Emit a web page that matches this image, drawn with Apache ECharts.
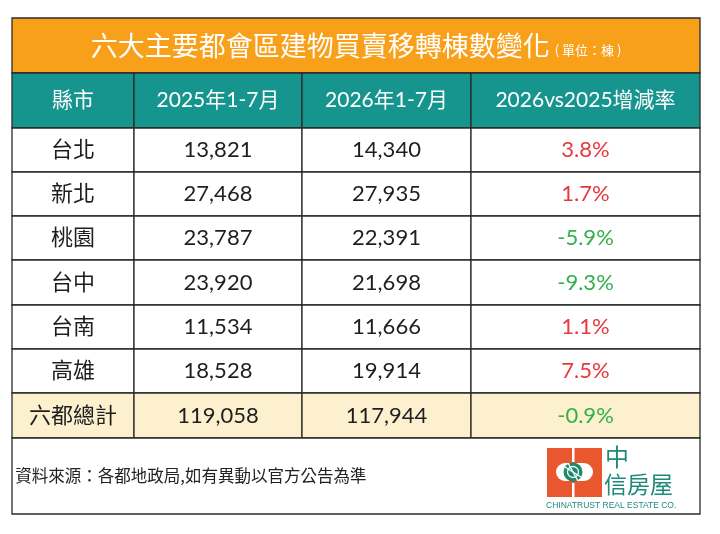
<!DOCTYPE html>
<html>
<head>
<meta charset="utf-8">
<title>六大主要都會區建物買賣移轉棟數變化</title>
<script src="https://cdn.jsdelivr.net/npm/echarts@6/dist/echarts.min.js"></script>
<style>
  html, body { margin: 0; padding: 0; background: #fff; }
  #table_chart { width: 720px; height: 534px; }
</style>
</head>
<body>
<div id="table_chart"></div>
<script>
// data
var titleText = '六大主要都會區建物買賣移轉棟數變化';
var unitText = '( 單位：棟 )';
var headers = ['縣市', '2025年1-7月', '2026年1-7月', '2026vs2025增減率'];
var cities = ['台北', '新北', '桃園', '台中', '台南', '高雄', '六都總計'];
var count2025 = [13821, 27468, 23787, 23920, 11534, 18528, 119058];
var count2026 = [14340, 27935, 22391, 21698, 11666, 19914, 117944];
var changeRate = [3.8, 1.7, -5.9, -9.3, 1.1, 7.5, -0.9];
var sourceText = '資料來源：各都地政局,如有異動以官方公告為準';

// layout (table units = px inside the grid)
var colEdges = [0, 122, 290, 459, 688];
var rowEdges = [0, 55, 110, 154, 198, 242, 287, 331, 375, 420, 496];
var FONT = 'Lato, "Noto Sans CJK TC", sans-serif';
var CJK = '"Noto Sans CJK TC", sans-serif';
var LOGO = '#1f8a7c';

var cells = [];
cells.push({c0: 0, c1: 4, r: 0, kind: 'title'});
headers.forEach(function (h, i) {
  cells.push({c0: i, c1: i + 1, r: 1, kind: 'head', text: h});
});
cities.forEach(function (city, i) {
  var total = i === cities.length - 1;
  var bg = total ? '#fdf0cf' : '#fff';
  var rate = changeRate[i];
  cells.push({c0: 0, c1: 1, r: i + 2, kind: 'body', text: city, fill: bg});
  cells.push({c0: 1, c1: 2, r: i + 2, kind: 'body', text: count2025[i].toLocaleString('en-US'), fill: bg});
  cells.push({c0: 2, c1: 3, r: i + 2, kind: 'body', text: count2026[i].toLocaleString('en-US'), fill: bg});
  cells.push({c0: 3, c1: 4, r: i + 2, kind: 'body', text: rate.toFixed(1) + '%', fill: bg,
    color: rate >= 0 ? '#e8373d' : '#33b04a'});
});
cells.push({c0: 0, c1: 4, r: rowEdges.length - 2, kind: 'foot', text: sourceText});

function renderCell(params, api) {
  var cell = cells[params.dataIndex];
  var p0 = api.coord([colEdges[api.value(0)], rowEdges[api.value(2)]]);
  var p1 = api.coord([colEdges[api.value(1)], rowEdges[api.value(2) + 1]]);
  var fill = '#fff', textStyle, pos = 'inside', dist = 0;
  if (cell.kind === 'title') {
    fill = '#f9a01b';
    textStyle = {
      text: '{t|' + titleText + '}{u|' + unitText + '}',
      rich: {
        t: {fontFamily: CJK, fontSize: 27, fill: '#fff'},
        u: {fontFamily: CJK, fontSize: 13, fill: '#fff', padding: [9, 0, 0, 5]}
      }
    };
  } else if (cell.kind === 'head') {
    fill = '#16958f';
    textStyle = {text: cell.text, fontFamily: FONT, fontSize: 21, fill: '#fff'};
  } else if (cell.kind === 'body') {
    fill = cell.fill;
    textStyle = {text: cell.text, fontFamily: FONT, fontSize: 22, fill: cell.color || '#1e1e1e'};
  } else {
    textStyle = {text: cell.text, fontFamily: CJK, fontSize: 16.5, fill: '#222'};
    pos = 'insideLeft';
    dist = 4;
  }
  return {
    type: 'rect',
    shape: {x: p0[0], y: p0[1], width: p1[0] - p0[0], height: p1[1] - p0[1]},
    style: {fill: fill, stroke: '#2b2b2b', lineWidth: 1.3},
    textContent: {style: textStyle},
    textConfig: {position: pos, distance: dist}
  };
}

// company logo, bottom right of the footer (offset from its top-left corner)
var lx = 547, ly = 448;
var logo = [
  {type: 'rect', shape: {x: lx, y: ly, width: 55, height: 49}, style: {fill: '#e8572e'}},
  {type: 'rect', shape: {x: lx + 25, y: ly, width: 2.5, height: 14}, style: {fill: '#fff'}},
  {type: 'rect', shape: {x: lx + 25, y: ly + 35, width: 2.5, height: 14}, style: {fill: '#fff'}},
  {type: 'rect', shape: {x: lx + 9, y: ly + 15, width: 37, height: 18, r: 9}, style: {fill: '#fff'}},
  {type: 'circle', shape: {cx: lx + 26, cy: ly + 24, r: 9.5}, style: {fill: '#1d8a6c'}},
  {type: 'circle', shape: {cx: lx + 26, cy: ly + 24, r: 5.5}, style: {fill: 'none', stroke: '#fff', lineWidth: 1.3}},
  {type: 'line', shape: {x1: lx + 18, y1: ly + 19, x2: lx + 34, y2: ly + 29}, style: {stroke: '#fff', lineWidth: 1.3}},
  {type: 'line', shape: {x1: lx + 21, y1: ly + 15, x2: lx + 31, y2: ly + 33}, style: {stroke: '#fff', lineWidth: 1.3}},
  {type: 'text', x: lx + 58, y: ly - 3, style: {text: '中', fontFamily: CJK, fontSize: 24, fill: LOGO}},
  {type: 'text', x: lx + 57, y: ly + 25, style: {text: '信房屋', fontFamily: CJK, fontSize: 23, fill: LOGO}},
  {type: 'text', x: lx - 1, y: ly + 53, style: {text: 'CHINATRUST REAL ESTATE CO.', fontFamily: '"Liberation Sans Narrow", "Liberation Sans"', fontSize: 8.5, fill: LOGO}}
];
logo.forEach(function (el) { el.z = 100; });

var tableChart = echarts.init(document.getElementById('table_chart'), null, {renderer: 'canvas'});
tableChart.setOption({
  animation: false,
  grid: {left: 12, top: 18, width: 688, height: 496},
  xAxis: {type: 'value', min: 0, max: colEdges[colEdges.length - 1], show: false},
  yAxis: {type: 'value', min: 0, max: rowEdges[rowEdges.length - 1], inverse: true, show: false},
  series: [{
    type: 'custom',
    z: 2,
    renderItem: renderCell,
    data: cells.map(function (c) { return [c.c0, c.c1, c.r]; })
  }],
  graphic: {elements: logo}
});

window.onresize = function () {
  tableChart.resize();
};
</script>
</body>
</html>
